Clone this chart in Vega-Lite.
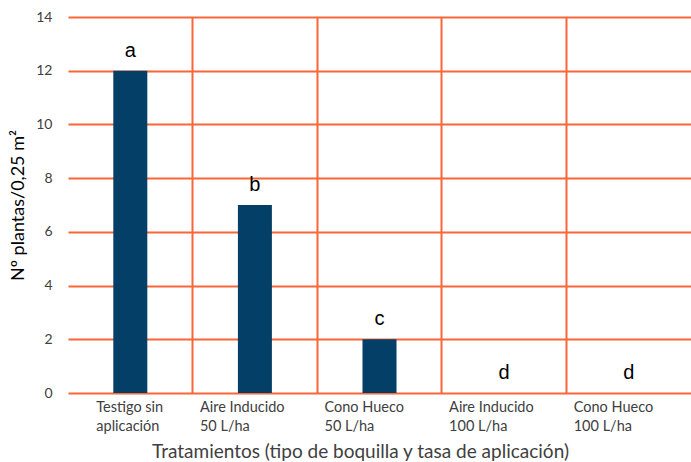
{
  "$schema": "https://vega.github.io/schema/vega-lite/v6.json",
  "width": 623,
  "height": 376,
  "autosize": {"type": "none"},
  "padding": {"left": 68, "top": 17, "right": 0, "bottom": 69},
  "background": "white",
  "config": {"view": {"stroke": null}},
  "data": {
    "values": [
      {"tratamiento": "Testigo sin|aplicación", "plantas": 12, "letra": "a"},
      {"tratamiento": "Aire Inducido|50 L/ha", "plantas": 7, "letra": "b"},
      {"tratamiento": "Cono Hueco|50 L/ha", "plantas": 2, "letra": "c"},
      {"tratamiento": "Aire Inducido|100 L/ha", "plantas": 0, "letra": "d"},
      {"tratamiento": "Cono Hueco|100 L/ha", "plantas": 0, "letra": "d"}
    ]
  },
  "encoding": {
    "x": {
      "field": "tratamiento",
      "type": "nominal",
      "sort": null,
      "scale": {"paddingInner": 0, "paddingOuter": 0},
      "axis": {
        "title": "Tratamientos (tipo de boquilla y tasa de aplicación)",
        "titleFont": "Lato",
        "titleFontSize": 19,
        "titleFontWeight": "normal",
        "titleColor": "#404040",
        "titleX": 292,
        "titleAlign": "center",
        "titleY": 58,
        "titleBaseline": "middle",
        "bandPosition": 0,
        "labelExpr": "split(datum.label, '|')",
        "labelAngle": 0,
        "labelAlign": "left",
        "labelBaseline": "top",
        "labelOffset": {"condition": {"test": "indexof(datum.value, 'Testigo') >= 0", "value": -34}, "value": -55},
        "labelPadding": 7,
        "labelLineHeight": 19,
        "labelFont": "Lato",
        "labelFontSize": 14.5,
        "labelColor": "#404040",
        "ticks": false,
        "domain": false,
        "grid": true,
        "gridColor": {"condition": {"test": "indexof(datum.value, 'Testigo') >= 0", "value": "transparent"}, "value": "#F96637"},
        "gridWidth": 2,
        "gridOpacity": 1
      }
    }
  },
  "layer": [
    {
      "mark": {"type": "bar", "size": 34, "color": "#033F66"},
      "encoding": {
        "y": {
          "field": "plantas",
          "type": "quantitative",
          "scale": {"domain": [0, 14], "nice": false},
          "axis": {
            "title": "Nº plantas/0,25 m²",
            "titleFont": "Lato",
            "titleFontSize": 18,
            "titleFontWeight": "normal",
            "titleColor": "#000000",
            "titleX": -50,
            "titleBaseline": "middle",
            "values": [0, 2, 4, 6, 8, 10, 12, 14],
            "labelFont": "Lato",
            "labelFontSize": 14,
            "labelColor": "#404040",
            "labelPadding": 16,
            "ticks": false,
            "domain": false,
            "grid": true,
            "gridColor": "#F96637",
            "gridWidth": 2,
            "gridOpacity": 1
          }
        }
      }
    },
    {
      "mark": {"type": "text", "font": "Liberation Sans", "fontSize": 20, "color": "#000000", "baseline": "alphabetic", "dy": -14},
      "encoding": {
        "y": {"field": "plantas", "type": "quantitative"},
        "text": {"field": "letra"}
      }
    }
  ]
}
